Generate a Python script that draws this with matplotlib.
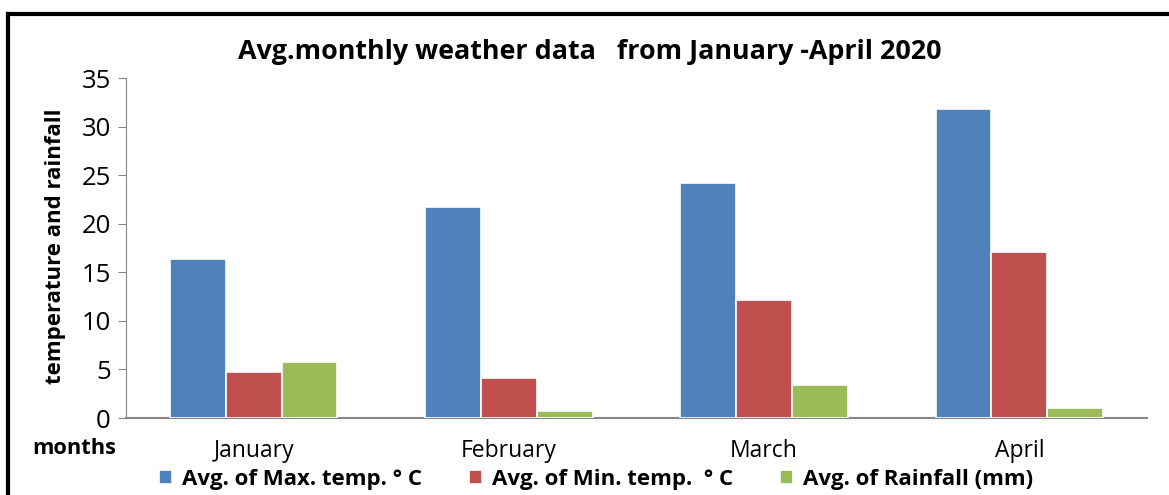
import matplotlib
matplotlib.use("Agg")
import matplotlib.pyplot as plt
import numpy as np
from matplotlib.lines import Line2D

months = ["January", "February", "March", "April"]
max_temp = [16.4, 21.7, 24.2, 31.8]
min_temp = [4.7, 4.1, 12.1, 17.1]
rainfall = [5.8, 0.7, 3.4, 1.0]
series_names = ["Avg. of Max. temp. \u00b0 C", "Avg. of Min. temp.  \u00b0 C", "Avg. of Rainfall (mm)"]
colors = ["#4F81BD", "#C0504D", "#9BBB59"]
yticks = [0, 5, 10, 15, 20, 25, 30, 35]

plt.rcParams['font.family'] = ['Open Sans', 'DejaVu Sans']

fig = plt.figure(figsize=(11.69, 4.95), dpi=100)
ax = fig.add_axes([126/1169, 1-418/495, (1147-126)/1169, 340/495])

x = np.arange(len(months))
w = 0.219
for i, (vals, c, n) in enumerate(zip([max_temp, min_temp, rainfall], colors, series_names)):
    ax.bar(x + (i-1)*w, vals, width=w, color=c, edgecolor="white", linewidth=1.2, label=n, zorder=3)

ax.set_xlim(-0.5, 3.5)
ax.set_ylim(0, 35)
ax.set_yticks(yticks)
ax.set_xticks(x)
ax.set_xticklabels(months, fontsize=16.5)
ax.tick_params(axis='x', length=0, pad=15)
ax.tick_params(axis='y', length=6, color='#868686', labelsize=18.5, pad=5)
for s in ['top', 'right']:
    ax.spines[s].set_visible(False)
ax.spines['left'].set_color('#868686')
ax.spines['bottom'].set_color('#868686')
ax.spines['bottom'].set_linewidth(1.5)

fig.text(590/1169, 1-52/495, "Avg.monthly weather data   from January -April 2020",
         ha='center', va='center', fontsize=19.4, fontweight='bold')
fig.text(55/1169, 1-246/495, "temperature and rainfall", rotation=90,
         ha='center', va='center', fontsize=16, fontweight='bold')
fig.text(74/1169, 1-448/495, "months", ha='center', va='center', fontsize=15.7, fontweight='bold')

leg = ax.legend(loc='center', bbox_to_anchor=(596/1169, 1-479/495), bbox_transform=fig.transFigure,
                ncol=3, frameon=False, prop={'weight': 'bold', 'size': 16},
                handlelength=0.6, handleheight=0.6, handletextpad=0.45, columnspacing=2.1,
                borderpad=0, borderaxespad=0)

# outer frame (top and left edges)
fig.add_artist(Line2D([8/1169, 8/1169], [0, 1-14/495], transform=fig.transFigure, color='black', lw=3))
fig.add_artist(Line2D([8/1169, 1], [1-14/495, 1-14/495], transform=fig.transFigure, color='black', lw=3))

fig.savefig("out.png", dpi=100)
